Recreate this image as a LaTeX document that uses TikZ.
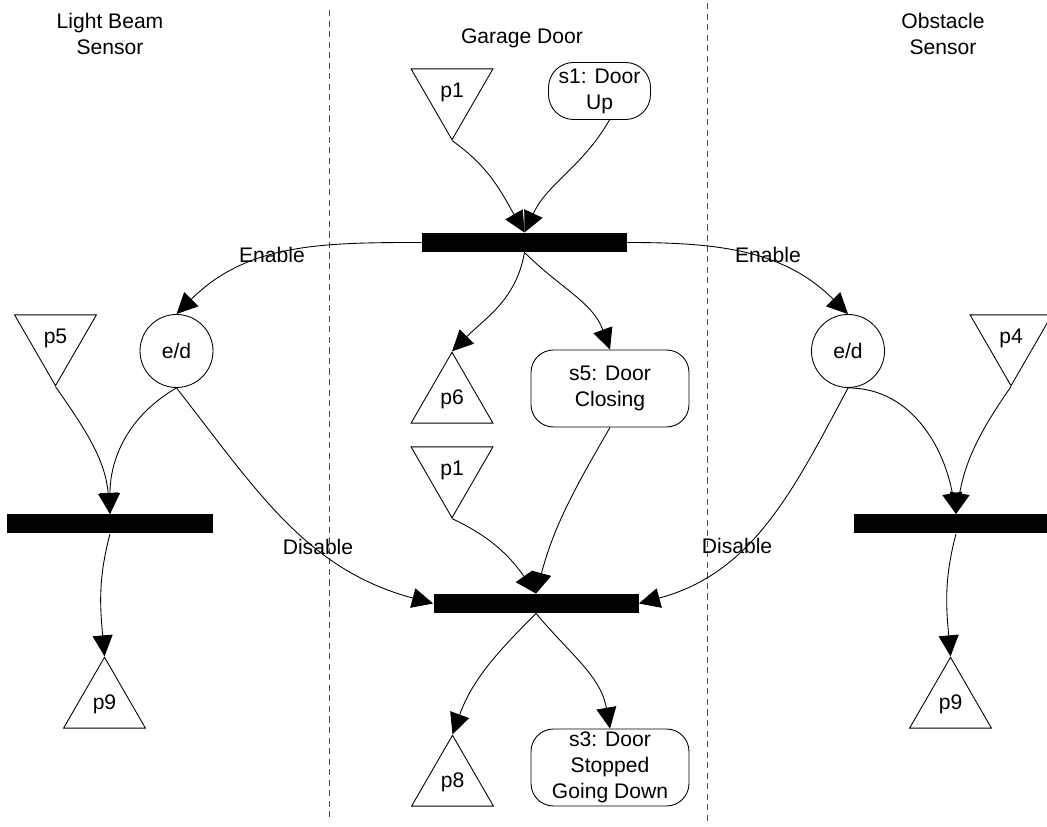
\documentclass[tikz,border=0pt]{standalone}
\usepackage{fontspec}
\setmainfont{Liberation Sans}
\usetikzlibrary{shapes.geometric,arrows.meta}

\begin{document}
\begin{tikzpicture}[line width=0.5pt,
    font=\fontsize{12}{14.8}\selectfont,
    >={Triangle[length=0.42cm,width=0.4cm]},
    placedown/.style={draw, regular polygon, regular polygon sides=3, shape border rotate=180, minimum size=1.89cm, inner sep=0pt},
    placeup/.style={draw, regular polygon, regular polygon sides=3, minimum size=1.89cm, inner sep=0pt},
    trans/.style={fill=black, minimum width=4.1cm, minimum height=0.38cm, inner sep=0pt},
    statebox/.style={draw, rounded corners=0.45cm, align=center, minimum width=3.16cm, minimum height=1.54cm, inner sep=0pt},
    ed/.style={draw, circle, minimum size=1.46cm, inner sep=0pt},
    lane/.style={dash pattern=on 3.5pt off 2.5pt, black!70}]

        \useasboundingbox (0,0) rectangle (20.94,16.52);

        %Lanes
        \draw[lane] (6.58,16.32) -- (6.58,0.16);
        \draw[lane] (14.14,16.46) -- (14.14,0.08);
        \node[align=center] (tLB) at (2.2,15.84) {Light Beam\\Sensor};
        \node (tGD) at (10.44,15.76) {Garage Door};
        \node[align=center] (tOS) at (18.86,15.84) {Obstacle\\Sensor};

        %Garage Door
        \begin{scope}[local bounding box=GarageDoor]
            \node[placedown] (p1top) at (9.04,14.67) {p1};
            \node[statebox, rounded corners=0.5cm, minimum width=2.04cm, minimum height=1.14cm] (s1) at (11.99,14.7) {s1: Door\\Up};
            \node[trans] (tbar) at (10.49,11.67) {};
            \node[placeup] (p6) at (9.04,8.53) {p6};
            \node[statebox] (s5) at (12.2,8.75) {s5: Door\\Closing};
            \node[placedown] (p1mid) at (9.04,7.11) {p1};
            \node[trans] (bbar) at (10.72,4.45) {};
            \node[placeup] (p8) at (9.05,0.87) {p8};
            \node[statebox] (s3) at (12.2,1.17) {s3: Door\\Stopped\\Going Down};
        \end{scope}

        %Light Beam Sensor
        \begin{scope}[local bounding box=LightBeam]
            \node[placedown] (p5) at (1.11,9.75) {p5};
            \node[ed] (edL) at (3.53,9.5) {e/d};
            \node[trans] (lbar) at (2.2,6.04) {};
            \node[placeup] (p9L) at (2.09,2.43) {p9};
        \end{scope}

        %Obstacle Sensor
        \begin{scope}[local bounding box=Obstacle]
            \node[placedown] (p4) at (20.22,9.75) {p4};
            \node[ed] (edR) at (16.96,9.5) {e/d};
            \node[trans] (rbar) at (19.12,6.04) {};
            \node[placeup] (p9R) at (19.01,2.43) {p9};
        \end{scope}

        \node (enL) at (5.44,11.42) {Enable};
        \node (enR) at (15.36,11.42) {Enable};
        \node (diL) at (6.36,5.58) {Disable};
        \node (diR) at (14.74,5.6) {Disable};

        \draw[->] (p1top.corner 1) to[out=-35,in=120] (tbar.north);
        \draw[->] ([xshift=0.2cm]s1.south) to[out=-120,in=65] (tbar.north);
        \draw[->] (tbar.west) to[out=180,in=45] (edL.north);
        \draw[->] (tbar.east) to[out=0,in=135] (edR.north);
        \draw[->] (tbar.south) to[out=-100,in=45] (p6.corner 1);
        \draw[->] (tbar.south) to[out=-45,in=110] (s5.north);
        \draw[->] (p5.corner 1) to[out=-55,in=95] (lbar.north);
        \draw[->] (edL.south) to[out=-150,in=90] (lbar.north);
        \draw[->] (edL.south) to[out=-52,in=165] (bbar.west);
        \draw[->] (lbar.south) to[out=-105,in=95] (p9L.corner 1);
        \draw[->] (edR.south) to[out=0,in=100] (rbar.north);
        \draw[->] (p4.corner 1) to[out=-125,in=80] (rbar.north);
        \draw[->] (edR.south) to[out=-118,in=15] (bbar.east);
        \draw[->] (rbar.south) to[out=-105,in=95] (p9R.corner 1);
        \draw[->] (p1mid.corner 1) to[out=-25,in=125] (bbar.north);
        \draw[->] (s5.south) to[out=-120,in=75] (bbar.north);
        \draw[->] (bbar.south) to[out=-135,in=70] (p8.corner 1);
        \draw[->] (bbar.south) to[out=-50,in=100] (s3.north);
    \end{tikzpicture}
\end{document}
